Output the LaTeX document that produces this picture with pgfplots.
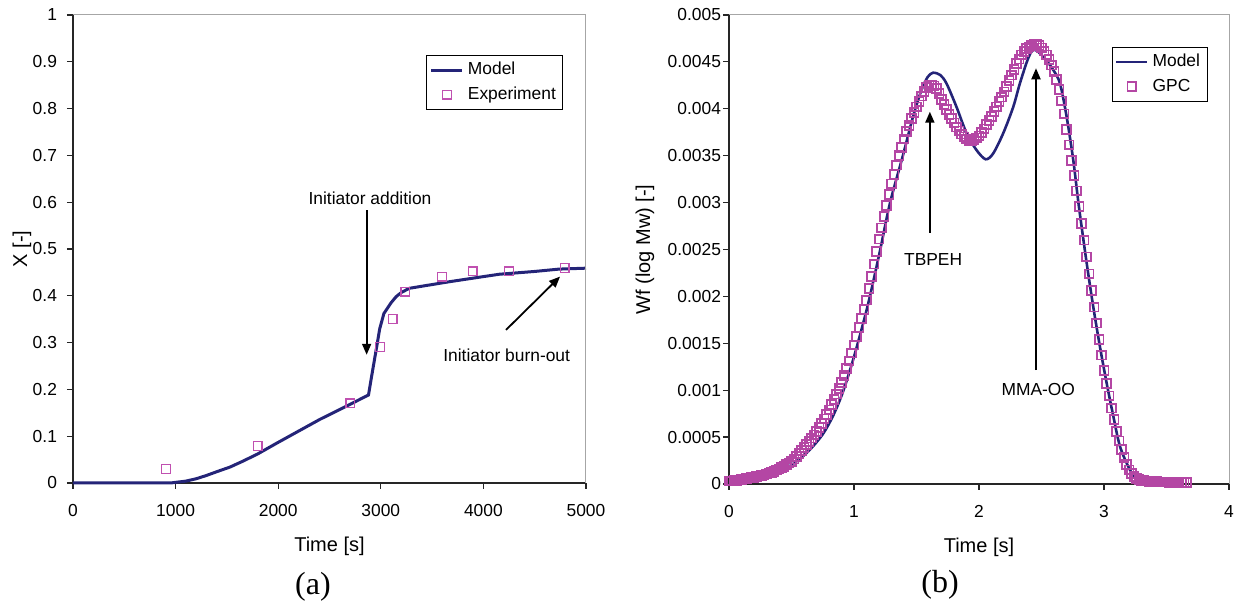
\documentclass[border=0pt]{standalone}
\usepackage{fontspec}
\setmainfont{Liberation Sans}
\newfontfamily\seriffont{Liberation Serif}
\usepackage{pgfplots}
\pgfplotsset{compat=1.18}
\usetikzlibrary{arrows.meta}
\definecolor{modelc}{RGB}{36,36,120}
\definecolor{expc}{RGB}{192,80,176}
\definecolor{gpcc}{RGB}{180,70,164}

\tikzset{ann/.style={-{Triangle[length=5.5pt,width=4.5pt]}, line width=0.9pt, black}}
\pgfplotsset{
  myax/.style={
    scale only axis,
    axis lines=left,
    axis line style={-, black!85, line width=0.6pt},
    tick align=outside,
    major tick length=3pt,
    tick style={black!85, line width=0.6pt},
    tick label style={font=\fontsize{8.7}{10}\selectfont},
    xticklabel style={yshift=-4pt},
    label style={font=\fontsize{8.7}{10}\selectfont},
    every axis x label/.style={at={(axis description cs:0.5,0)}, anchor=center, yshift=-31.5pt},
    legend style={font=\fontsize{8.7}{10}\selectfont, draw=black, line width=0.5pt, inner sep=1.5pt, row sep=0.5pt, cells={anchor=west}},
    legend image code/.code={\draw[mark repeat=2,mark phase=2,##1] plot coordinates {(0pt,0pt) (7.75pt,0pt) (15.5pt,0pt)};},
    clip=false,
    scaled ticks=false,
  },
}

\begin{document}
\begin{tikzpicture}
\useasboundingbox (0,0) rectangle (619.5pt,304pt);

% ---------------- (a) ----------------
\begin{axis}[myax,
  at={(36.5pt,62.5pt)}, anchor=south west,
  width=256.5pt, height=234pt,
  xmin=0, xmax=5000, ymin=0, ymax=1,
  xtick={0,1000,2000,3000,4000,5000},
  xticklabels={0,1000,2000,3000,4000,5000},
  ytick={0,0.1,0.2,0.3,0.4,0.5,0.6,0.7,0.8,0.9,1},
  yticklabels={0,0.1,0.2,0.3,0.4,0.5,0.6,0.7,0.8,0.9,1},
  yticklabel style={xshift=-1.5pt},
  xlabel={Time [s]},
  every axis y label/.style={at={(axis description cs:0,0.5)}, anchor=center, xshift=-25.5pt, rotate=90},
  ylabel={X [-]},
  legend style={at={(rel axis cs:0.956,0.915)}, anchor=north east},
]
\addplot[modelc, line width=1.5pt] coordinates {
(0,0) (950,0) (1100,0.004) (1200,0.009) (1300,0.016) (1400,0.024) (1530,0.034)
(1650,0.046) (1800,0.062) (1985,0.085) (2200,0.111) (2407,0.136) (2600,0.157)
(2700,0.168) (2880,0.188) (2920,0.24) (2960,0.291) (2990,0.330) (3009,0.345)
(3030,0.362) (3100,0.385) (3149,0.398) (3200,0.407) (3278,0.416) (3500,0.424)
(3667,0.430) (4000,0.441) (4154,0.446) (4500,0.452) (4737,0.457) (5000,0.459)
};
\addlegendentry{Model}
\addplot[only marks, mark=square, mark size=2.2pt, expc, mark options={expc, line width=0.6pt}] coordinates {
(906,0.030) (1800,0.079) (2703,0.170) (2993,0.291) (3116,0.350) (3239,0.409)
(3596,0.441) (3894,0.452) (4251,0.452) (4792,0.460)
};
\addlegendentry{Experiment}
\draw[gray!70, line width=0.5pt] (rel axis cs:0,1) -- (rel axis cs:1,1) -- (rel axis cs:1,0);
\draw[ann] (axis cs:2862,0.583) -- (axis cs:2862,0.274);
\node[font=\fontsize{8.7}{10}\selectfont] at (axis cs:2895,0.608) {Initiator addition};
\draw[ann] (axis cs:4220,0.327) -- (axis cs:4747,0.441);
\node[font=\fontsize{8.7}{10}\selectfont] at (axis cs:4227,0.272) {Initiator burn-out};
\end{axis}

% ---------------- (b) ----------------
\begin{axis}[myax,
  at={(364.5pt,62pt)}, anchor=south west,
  width=250pt, height=234.5pt,
  xmin=0, xmax=4, ymin=0, ymax=0.005,
  xtick={0,1,2,3,4},
  xticklabels={0,1,2,3,4},
  ytick={0,0.0005,0.001,0.0015,0.002,0.0025,0.003,0.0035,0.004,0.0045,0.005},
  yticklabels={0,0.0005,0.001,0.0015,0.002,0.0025,0.003,0.0035,0.004,0.0045,0.005},
  yticklabel style={xshift=2.5pt},
  xlabel={Time [s]},
  every axis y label/.style={at={(axis description cs:0,0.5)}, anchor=center, xshift=-42pt, rotate=90},
  ylabel={Wf (log Mw) [-]},
  legend style={at={(rel axis cs:0.957,0.932)}, anchor=north east},
]
\addplot[modelc, line width=1.3pt, smooth] coordinates {
(0,0) (0.1,0.000025) (0.166,0.000043) (0.3,0.000088) (0.433,0.000152) (0.55,0.00025)
(0.65,0.00037) (0.75,0.00053) (0.83,0.00072) (0.9,0.00094) (0.96,0.00118) (1.02,0.00145)
(1.113,0.00192) (1.207,0.00248) (1.287,0.00299) (1.393,0.00351) (1.473,0.00392)
(1.54,0.0042) (1.59,0.00434) (1.634,0.004385) (1.69,0.00436) (1.74,0.00427)
(1.82,0.00402) (1.90,0.00374) (1.98,0.00356) (2.053,0.003462) (2.114,0.003525)
(2.194,0.00374) (2.274,0.00402) (2.327,0.00427) (2.394,0.00454) (2.44,0.00463)
(2.514,0.004556) (2.594,0.004414) (2.648,0.00427) (2.701,0.003916) (2.754,0.003454)
(2.80,0.00295) (2.862,0.00235) (2.914,0.00189) (2.968,0.00146) (3.022,0.00107)
(3.075,0.00072) (3.128,0.0004) (3.208,0.00015) (3.288,0.00001) (3.35,0)
};
\addlegendentry{Model}
\addplot[only marks, mark=square, mark size=2.2pt, gpcc, mark options={gpcc, line width=0.9pt}] coordinates {
(0.00,0.000030) (0.02,0.000033) (0.04,0.000037) (0.06,0.000040) (0.08,0.000044)
(0.10,0.000048) (0.12,0.000052) (0.14,0.000057) (0.16,0.000062) (0.18,0.000067)
(0.20,0.000072) (0.22,0.000078) (0.24,0.000084) (0.26,0.000090) (0.28,0.000097)
(0.30,0.000105) (0.32,0.000115) (0.34,0.000125) (0.36,0.000136) (0.38,0.000148)
(0.40,0.000160) (0.42,0.000174) (0.44,0.000189) (0.46,0.000205) (0.48,0.000222)
(0.50,0.000240) (0.52,0.000266) (0.54,0.000294) (0.56,0.000324) (0.58,0.000356)
(0.60,0.000390) (0.62,0.000422) (0.64,0.000455) (0.66,0.000489) (0.68,0.000524)
(0.70,0.000560) (0.72,0.000603) (0.74,0.000648) (0.76,0.000694) (0.78,0.000741)
(0.80,0.000790) (0.82,0.000845) (0.84,0.000901) (0.86,0.000959) (0.88,0.001019)
(0.90,0.001080) (0.92,0.001155) (0.94,0.001232) (0.96,0.001312) (0.98,0.001395)
(1.00,0.001480) (1.02,0.001572) (1.04,0.001666) (1.06,0.001762) (1.08,0.001860)
(1.10,0.001960) (1.12,0.002085) (1.14,0.002215) (1.16,0.002345) (1.18,0.002478)
(1.20,0.002610) (1.22,0.002730) (1.24,0.002850) (1.26,0.002970) (1.28,0.003085)
(1.30,0.003200) (1.32,0.003300) (1.34,0.003400) (1.36,0.003500) (1.38,0.003590)
(1.40,0.003680) (1.42,0.003755) (1.44,0.003825) (1.46,0.003895) (1.48,0.003960)
(1.50,0.004020) (1.52,0.004080) (1.54,0.004135) (1.56,0.004185) (1.58,0.004225)
(1.60,0.004250) (1.62,0.004255) (1.64,0.004245) (1.66,0.004215) (1.68,0.004165)
(1.70,0.004100) (1.72,0.004045) (1.74,0.003990) (1.76,0.003940) (1.78,0.003895)
(1.80,0.003850) (1.82,0.003805) (1.84,0.003765) (1.86,0.003730) (1.88,0.003700)
(1.90,0.003680) (1.92,0.003665) (1.94,0.003665) (1.96,0.003675) (1.98,0.003690)
(2.00,0.003710) (2.02,0.003745) (2.04,0.003785) (2.06,0.003830) (2.08,0.003875)
(2.10,0.003920) (2.12,0.003970) (2.14,0.004020) (2.16,0.004075) (2.18,0.004125)
(2.20,0.004180) (2.22,0.004240) (2.24,0.004300) (2.26,0.004360) (2.28,0.004420)
(2.30,0.004480) (2.32,0.004530) (2.34,0.004575) (2.36,0.004610) (2.38,0.004640)
(2.40,0.004660) (2.42,0.004675) (2.44,0.004685) (2.46,0.004685) (2.48,0.004675)
(2.50,0.004650) (2.52,0.004615) (2.54,0.004575) (2.56,0.004525) (2.58,0.004465)
(2.60,0.004400) (2.62,0.004310) (2.64,0.004205) (2.66,0.004085) (2.68,0.003945)
(2.70,0.003780) (2.72,0.003615) (2.74,0.003450) (2.76,0.003290) (2.78,0.003125)
(2.80,0.002960) (2.82,0.002780) (2.84,0.002600) (2.86,0.002420) (2.88,0.002240)
(2.90,0.002060) (2.92,0.001885) (2.94,0.001715) (2.96,0.001540) (2.98,0.001375)
(3.00,0.001210) (3.02,0.001070) (3.04,0.000940) (3.06,0.000810) (3.08,0.000685)
(3.10,0.000560) (3.12,0.000460) (3.14,0.000365) (3.16,0.000280) (3.18,0.000210)
(3.20,0.000150) (3.22,0.000110) (3.24,0.000080) (3.26,0.000060) (3.28,0.000048)
(3.30,0.000040) (3.32,0.000035) (3.34,0.000031) (3.36,0.000028) (3.38,0.000026)
(3.40,0.000025) (3.42,0.000024) (3.44,0.000023) (3.46,0.000022) (3.48,0.000021)
(3.50,0.000020) (3.52,0.000019) (3.54,0.000018) (3.56,0.000017) (3.58,0.000016)
(3.60,0.000015) (3.62,0.000015) (3.64,0.000015) (3.66,0.000015)
};
\addlegendentry{GPC}
\draw[gray!70, line width=0.5pt] (rel axis cs:0,1) -- (rel axis cs:1,1) -- (rel axis cs:1,0);
\draw[ann] (axis cs:1.607,0.002676) -- (axis cs:1.607,0.003969);
\node[font=\fontsize{8.7}{10}\selectfont] at (axis cs:1.633,0.002388) {TBPEH};
\draw[ann] (axis cs:2.456,0.001215) -- (axis cs:2.456,0.004432);
\node[font=\fontsize{8.7}{10}\selectfont] at (axis cs:2.474,0.001002) {MMA-OO};
\end{axis}

\node[font=\seriffont\fontsize{16}{18}\selectfont] at (156.5pt,10.5pt) {(a)};
\node[font=\seriffont\fontsize{16}{18}\selectfont] at (470pt,11.5pt) {(b)};
\end{tikzpicture}
\end{document}
